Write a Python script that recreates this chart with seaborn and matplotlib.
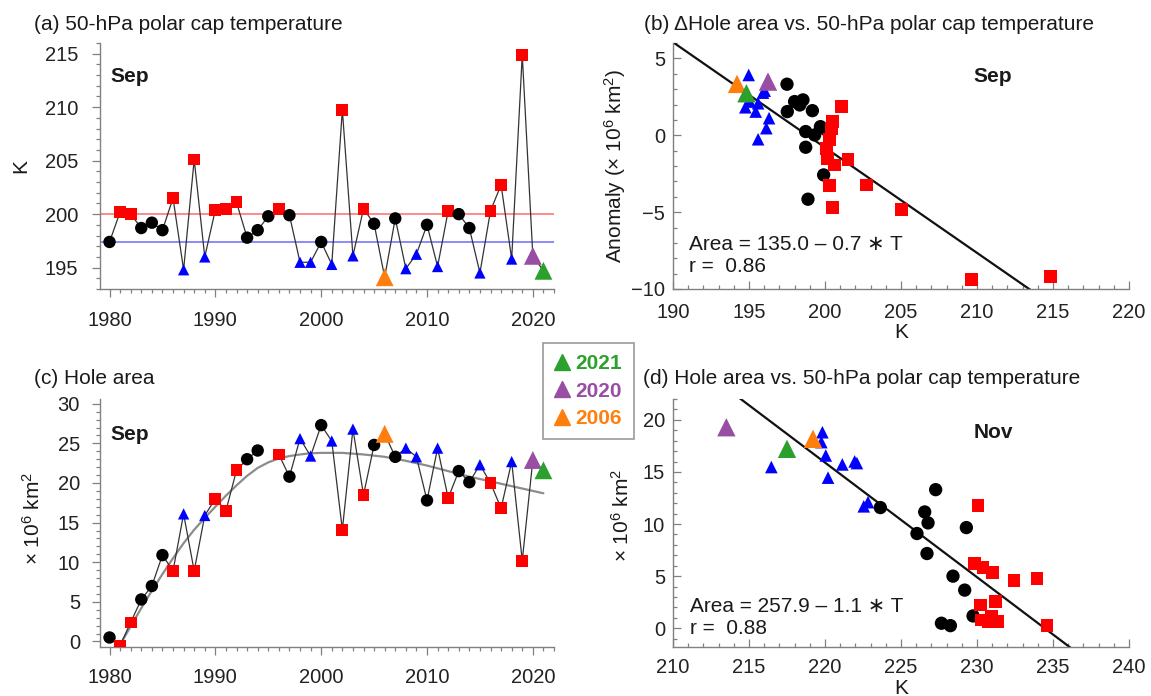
import numpy as np
import pandas as pd
import matplotlib
matplotlib.use("Agg")
import matplotlib.pyplot as plt
from matplotlib.ticker import MultipleLocator
from matplotlib.lines import Line2D
import seaborn as sns

W, H = 1151, 696

# ---- (a)/(c) yearly series, Sep ----
years = list(range(1980, 2022))
temp_sep = [197.4, 200.2, 200.0, 198.7, 199.2, 198.5, 201.5, 194.8, 205.1, 196.0,
            200.4, 200.5, 201.1, 197.8, 198.5, 199.8, 200.5, 199.9, 195.5, 195.5,
            197.4, 195.3, 209.75, 196.1, 200.5, 199.1, 194.1, 199.6, 194.9, 196.25,
            199.0, 195.1, 200.3, 200.0, 198.7, 194.5, 200.3, 202.75, 195.8, 214.9,
            196.1, 194.7]
area_sep = [0.5, -0.5, 2.4, 5.3, 7.0, 10.9, 8.9, 16.1, 8.9, 15.9,
            18.0, 16.5, 21.6, 23.0, 24.1, np.nan, 23.6, 20.8, 25.6, 23.4,
            27.3, 25.3, 14.1, 26.8, 18.5, 24.8, 26.2, 23.3, 24.4, 23.3,
            17.8, 24.4, 18.1, 21.5, 20.1, 22.3, 20.0, 16.8, 22.7, 10.2,
            22.9, 21.6]
cls_year = ['normal', 'warm', 'warm', 'normal', 'normal', 'normal', 'warm', 'cold', 'warm', 'cold',
            'warm', 'warm', 'warm', 'normal', 'normal', 'normal', 'warm', 'normal', 'cold', 'cold',
            'normal', 'cold', 'warm', 'cold', 'warm', 'normal', '2006', 'normal', 'cold', 'cold',
            'normal', 'cold', 'warm', 'normal', 'normal', 'cold', 'warm', 'warm', 'cold', 'warm',
            '2020', '2021']
warm_line = 200.0
cold_line = 197.4

# smooth fit drawn in (c)
fit_years = [1981, 1982, 1983, 1984, 1985, 1986, 1987, 1988, 1989, 1990, 1991, 1992,
             1993, 1994, 1995, 1996, 1997, 1998, 1999, 2000, 2002, 2004, 2006, 2008,
             2010, 2012, 2014, 2016, 2018, 2020, 2021]
fit_area = [-0.4, 1.9, 4.2, 6.4, 8.5, 10.5, 12.4, 14.1, 15.6, 17.0, 18.4, 19.7,
            20.9, 21.9, 22.6, 23.1, 23.4, 23.6, 23.75, 23.8, 23.8, 23.6, 23.3, 22.8,
            22.2, 21.5, 20.8, 20.2, 19.6, 19.0, 18.7]

# ---- (b) anomaly vs temperature, Sep ----
b_temp = [194.98, 196.03, 194.76, 195.44, 195.6, 196.32, 196.14, 195.6, 195.05, 195.92,
          197.5, 198.0, 198.55, 197.52, 199.17, 198.34, 198.73, 199.32, 199.7, 200.09,
          198.73, 199.91, 198.88,
          201.08, 200.49, 200.42, 200.31, 200.09, 200.16, 200.64, 201.51, 200.31, 202.72,
          200.49, 205.03, 209.65, 214.85,
          194.21, 196.25, 194.83]
b_anom = [3.92, 2.9, 1.82, 1.54, 2.08, 1.11, 0.46, -0.26, 2.19, 2.77,
          3.32, 2.19, 2.3, 1.54, 1.6, 1.97, 0.24, 0.02, 0.56, 0.35,
          -0.78, -2.58, -4.16,
          1.86, 0.89, 0.46, -0.30, -0.84, -1.49, -1.93, -1.6, -3.29, -3.23,
          -4.7, -4.85, -9.4, -9.18,
          3.34, 3.49, 2.73]
b_cls = ['cold'] * 10 + ['normal'] * 13 + ['warm'] * 14 + ['2006', '2020', '2021']
b_fit = (136.2, -0.685)

# ---- (d) hole area vs temperature, Nov ----
d_temp = [219.83, 219.76, 220.05, 216.47, 220.2, 221.14, 221.95, 222.1, 222.55, 222.83,
          227.28, 223.64, 226.56, 226.78, 226.05, 229.3, 226.71, 228.42, 229.19, 229.74,
          227.66, 228.25,
          230.07, 229.85, 230.39, 231.01, 232.43, 233.95, 230.22, 231.23, 230.29, 230.95,
          231.38, 230.72, 234.61,
          219.21, 213.51, 217.5]
d_area = [18.81, 17.86, 16.58, 15.47, 14.45, 15.72, 16.01, 15.85, 11.7, 12.1,
          13.3, 11.58, 11.16, 10.11, 9.09, 9.66, 7.17, 5.0, 3.66, 1.18,
          0.48, 0.25,
          11.8, 6.22, 5.84, 5.32, 4.56, 4.78, 2.23, 2.55, 0.79, 1.11,
          0.63, 0.63, 0.25,
          18.18, 19.29, 17.22]
d_cls = ['cold'] * 10 + ['normal'] * 12 + ['warm'] * 13 + ['2006', '2020', '2021']
d_fit = (257.9, -1.1)

palette = {'normal': 'black', 'warm': '#ff0000', 'cold': '#0000ff',
           '2006': '#ff7f0e', '2020': '#984ea3', '2021': '#2ca02c'}
markers = {'normal': 'o', 'warm': 's', 'cold': '^',
           '2006': '^', '2020': '^', '2021': '^'}
sizes_ts = {'normal': 80, 'warm': 72, 'cold': 66, '2006': 165, '2020': 165, '2021': 165}
sizes_sc = {'normal': 92, 'warm': 84, 'cold': 82, '2006': 175, '2020': 175, '2021': 175}

sns.set_theme(style="ticks")
plt.rcParams['font.family'] = ['Liberation Sans', 'DejaVu Sans']
plt.rcParams['mathtext.fontset'] = 'custom'
plt.rcParams['mathtext.rm'] = 'Liberation Sans'
plt.rcParams['mathtext.it'] = 'Liberation Sans:italic'
plt.rcParams['mathtext.bf'] = 'Liberation Sans:bold'

TXT = '#1a1a1a'
AX = '#808080'

fig = plt.figure(figsize=(W / 100, H / 100), dpi=100)


def box(l, t, r, b):
    return fig.add_axes([l / W, 1 - b / H, (r - l) / W, (b - t) / H])


def ftext(x, y, s, **kw):
    kw.setdefault('fontsize', 15)
    kw.setdefault('color', TXT)
    fig.text(x / W, 1 - y / H, s, **kw)


def style_axis(ax, direction, xmaj, ymaj, xpad, ypad):
    sns.despine(ax=ax)
    for s in ['left', 'bottom']:
        ax.spines[s].set_color(AX)
        ax.spines[s].set_linewidth(1.0)
    ax.xaxis.set_major_locator(MultipleLocator(xmaj))
    ax.xaxis.set_minor_locator(MultipleLocator(1))
    ax.yaxis.set_major_locator(MultipleLocator(ymaj))
    ax.yaxis.set_minor_locator(MultipleLocator(1))
    ax.tick_params(which='both', direction=direction, color=AX, width=0.9,
                   labelsize=14.5, labelcolor='#222222')
    ax.tick_params(which='major', length=5.8)
    ax.tick_params(which='minor', length=2.9)
    ax.tick_params(axis='x', pad=xpad)
    ax.tick_params(axis='y', pad=ypad)
    ax.set_xlabel('')
    ax.set_ylabel('')
    ax.set_facecolor('white')


df = pd.DataFrame({'year': years, 'temp': temp_sep, 'area': area_sep, 'cls': cls_year})
df['seg'] = df['area'].isna().cumsum()

# (a) temperature time series
ax_a = box(100, 43, 554, 289)
ax_a.axhline(warm_line, color='#ff8a8a', lw=1.4, zorder=1)
ax_a.axhline(cold_line, color='#8a8aff', lw=1.4, zorder=1)
sns.lineplot(data=df, x='year', y='temp', color='#333333', lw=0.9, ax=ax_a, zorder=2)
sns.scatterplot(data=df, x='year', y='temp', hue='cls', style='cls', size='cls',
                palette=palette, markers=markers, sizes=sizes_ts, linewidth=0,
                legend=False, ax=ax_a, zorder=3)
ax_a.set_xlim(1979.1, 2022)
ax_a.set_ylim(193, 216)
style_axis(ax_a, 'out', 10, 5, 10, 10)

# (c) hole area time series
ax_c = box(100, 399, 554, 647)
sns.lineplot(x=fit_years, y=fit_area, color='#8c8c8c', lw=1.6, ax=ax_c, zorder=1)
sns.lineplot(data=df.dropna(), x='year', y='area', units='seg', estimator=None,
             color='#333333', lw=0.9, ax=ax_c, zorder=2)
sns.scatterplot(data=df.dropna(), x='year', y='area', hue='cls', style='cls', size='cls',
                palette=palette, markers=markers, sizes=sizes_ts, linewidth=0,
                legend=False, ax=ax_c, zorder=3)
ax_c.set_xlim(1979.1, 2022)
ax_c.set_ylim(-0.7, 30.6)
style_axis(ax_c, 'out', 10, 5, 9.5, 8.6)


def scatter_panel(ax, temps, vals, classes, fit, xlim, ylim):
    d = pd.DataFrame({'T': temps, 'v': vals, 'cls': classes})
    fx = np.array(xlim, dtype=float)
    sns.lineplot(x=fx, y=fit[0] + fit[1] * fx, color='#111111', lw=1.6, ax=ax, zorder=2)
    sns.scatterplot(data=d, x='T', y='v', hue='cls', style='cls', size='cls',
                    palette=palette, markers=markers, sizes=sizes_sc, linewidth=0,
                    legend=False, ax=ax, zorder=3)
    ax.set_xlim(*xlim)
    ax.set_ylim(*ylim)


ax_b = box(673, 43, 1129, 289)
scatter_panel(ax_b, b_temp, b_anom, b_cls, b_fit, (190, 220), (-10, 6))
style_axis(ax_b, 'in', 5, 5, 10, 5.8)

ax_d = box(673, 399, 1129, 647)
scatter_panel(ax_d, d_temp, d_area, d_cls, d_fit, (210, 240), (-1.8, 22))
style_axis(ax_d, 'in', 5, 5, 8, 5.8)

# titles
ftext(34, 24, '(a) 50-hPa polar cap temperature', ha='left', va='center')
ftext(644, 24, '(b) \u0394Hole area vs. 50-hPa polar cap temperature', ha='left', va='center')
ftext(34, 379, '(c) Hole area', ha='left', va='center')
ftext(643, 379, '(d) Hole area vs. 50-hPa polar cap temperature', ha='left', va='center')

# month tags
ftext(130, 77, 'Sep', ha='center', va='center', fontweight='bold')
ftext(993, 77, 'Sep', ha='center', va='center', fontweight='bold')
ftext(130, 434, 'Sep', ha='center', va='center', fontweight='bold')
ftext(993, 433, 'Nov', ha='center', va='center', fontweight='bold')

# axis labels
ftext(21, 166, 'K', ha='center', va='center', rotation=90)
ftext(615, 166, 'Anomaly (\u00d7 10$^{6}$ km$^{2}$)', ha='center', va='center', rotation=90)
ftext(901, 332, 'K', ha='center', va='center')
ftext(33, 518, '\u00d7 10$^{6}$ km$^{2}$', ha='center', va='center', rotation=90)
ftext(622, 515, '\u00d7 10$^{6}$ km$^{2}$', ha='center', va='center', rotation=90)
ftext(901, 688, 'K', ha='center', va='center')

# regression annotations
ftext(689, 245, 'Area = 135.0 \u2013 0.7 \u2217 T', ha='left', va='center')
ftext(689, 267, 'r =  0.86', ha='left', va='center')
ftext(690, 606, 'Area = 257.9 \u2013 1.1 \u2217 T', ha='left', va='center')
ftext(690, 628, 'r =  0.88', ha='left', va='center')

# legend for highlighted years
leg_years = ['2021', '2020', '2006']
handles = [Line2D([], [], marker='^', ls='', color=palette[y], markersize=12) for y in leg_years]
leg = fig.legend(handles, leg_years, loc='upper left', bbox_to_anchor=(543 / W, 1 - 343 / H),
                 frameon=True, fancybox=False, edgecolor='#999999', framealpha=1,
                 prop={'size': 15, 'weight': 'bold'}, handlelength=0.75, handletextpad=0.28,
                 labelspacing=0.4, borderpad=0.54, borderaxespad=0)
for t, y in zip(leg.get_texts(), leg_years):
    t.set_color(palette[y])
leg.get_frame().set_linewidth(1.2)

fig.savefig('out.png', dpi=100)
